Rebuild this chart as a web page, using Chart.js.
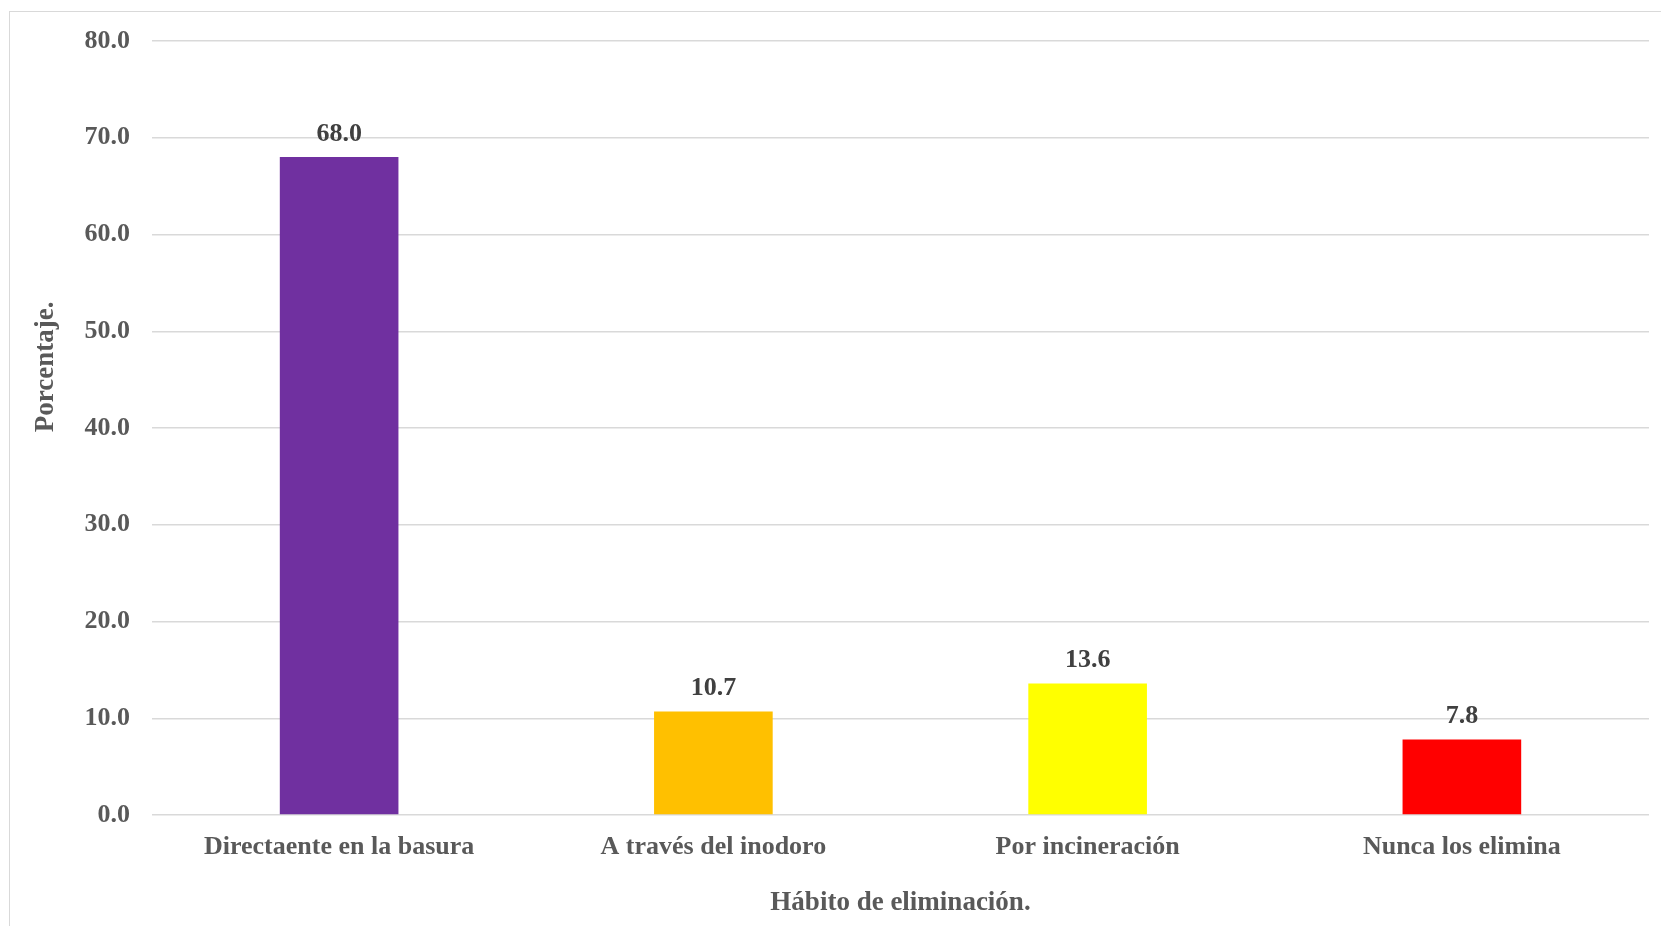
<!DOCTYPE html>
<html>
<head>
<meta charset="utf-8">
<script src="https://cdn.jsdelivr.net/npm/chart.js@4"></script>
<style>
	html, body { margin: 0; padding: 0; background: #fff; overflow: hidden; }
	#wrap { position: relative; width: 1661px; height: 926px; }
	#frame { position: absolute; left: 9px; top: 11px; width: 1700px; height: 1000px; border: 1.5px solid #d9d9d9; pointer-events: none; }
</style>
</head>
<body>
<div id="wrap">
	<canvas id="habitChart" width="1661" height="926"></canvas>
	<div id="frame"></div>
</div>
<script>
var categories = ["Directaente en la basura", "A través del inodoro", "Por incineración", "Nunca los elimina"];
var percentages = [68.0, 10.7, 13.6, 7.8];
var barColors = ["#7030a0", "#ffc000", "#ffff00", "#ff0000"];
var yTicks = [0, 10, 20, 30, 40, 50, 60, 70, 80];
var xTitle = "Hábito de eliminación.";
var yTitle = "Porcentaje.";

var FONT = "'Liberation Serif', 'Times New Roman', serif";

// value labels above each bar
var valueLabels = {
	id: 'valueLabels',
	afterDatasetsDraw: function (chart) {
		var ctx = chart.ctx;
		var meta = chart.getDatasetMeta(0);
		ctx.save();
		ctx.font = "bold 26px " + FONT;
		ctx.fillStyle = "#404040";
		ctx.textAlign = "center";
		ctx.textBaseline = "middle";
		meta.data.forEach(function (bar, i) {
			ctx.fillText(percentages[i].toFixed(1), bar.x, bar.y - 23);
		});
		ctx.restore();
	}
};

// axis titles (Excel puts the y title a bit above centre)
var axisTitles = {
	id: 'axisTitles',
	afterDraw: function (chart) {
		var ctx = chart.ctx;
		var area = chart.chartArea;
		ctx.save();
		ctx.font = "bold 27px " + FONT;
		ctx.fillStyle = "#595959";
		ctx.textAlign = "center";
		ctx.textBaseline = "middle";
		ctx.fillText(xTitle, (area.left + area.right) / 2, 903);
		ctx.translate(46, area.top + (area.bottom - area.top) * 0.421);
		ctx.rotate(-Math.PI / 2);
		ctx.fillText(yTitle, 0, 0);
		ctx.restore();
	}
};

function loadHabitChart () {
	var ctx = document.getElementById("habitChart");
	new Chart(ctx, {
		type: 'bar',
		data: {
			labels: categories,
			datasets: [{
				data: percentages,
				backgroundColor: barColors,
				borderWidth: 0,
				barPercentage: 0.317,
				categoryPercentage: 1
			}]
		},
		options: {
			responsive: false,
			animation: false,
			layout: { padding: { top: 41, right: 12, left: 0, bottom: 0 } },
			plugins: {
				legend: { display: false },
				tooltip: { enabled: false }
			},
			scales: {
				x: {
					grid: { display: false },
					border: { display: false },
					ticks: {
						color: "#595959",
						font: { family: FONT, size: 26, weight: 'bold' },
						padding: 9,
						maxRotation: 0
					},
					afterFit: function (scale) { scale.height = 111; }
				},
				y: {
					min: 0,
					max: 80,
					afterBuildTicks: function (scale) {
						scale.ticks = yTicks.map(function (v) { return { value: v }; });
					},
					grid: { color: "#d9d9d9", lineWidth: 1.5, drawTicks: false },
					border: { display: false },
					ticks: {
						color: "#595959",
						font: { family: FONT, size: 26, weight: 'bold' },
						padding: 22,
						callback: function (v) { return Number(v).toFixed(1); }
					},
					afterFit: function (scale) { scale.width = 152; }
				}
			}
		},
		plugins: [valueLabels, axisTitles]
	});
}
window.addEventListener("load", function(){ loadHabitChart(); });
</script>
</body>
</html>
